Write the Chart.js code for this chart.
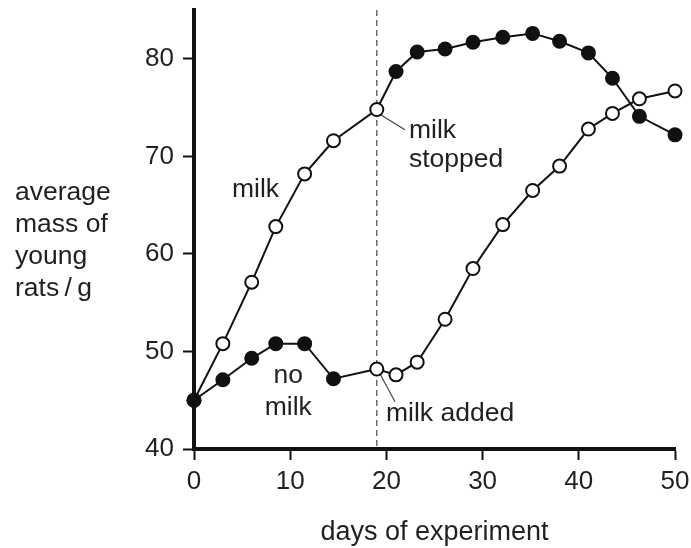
<!DOCTYPE html>
<html>
<head>
<meta charset="utf-8">
<script src="https://cdn.jsdelivr.net/npm/chart.js@4.4.1/dist/chart.umd.min.js"></script>
<style>
  html, body { margin: 0; padding: 0; background: #fff; }
  #wrap { width: 691px; height: 548px; }
</style>
</head>
<body>
<div id="wrap"><canvas id="ratChart" width="691" height="548"></canvas></div>
<script>
// data
var days = [0, 3, 6, 8.5, 11.5, 14.5, 19, 21, 23.2, 26.1, 29, 32.1, 35.2, 38, 41, 43.5, 46.3, 50];
var milkThenStopped = [45, 50.8, 57.1, 62.8, 68.2, 71.6, 74.8, 78.7, 80.7, 81, 81.7, 82.2, 82.6, 81.8, 80.6, 78, 74.1, 72.2];
var noMilkThenAdded = [45, 47.1, 49.3, 50.8, 50.8, 47.2, 48.2, 47.6, 48.9, 53.3, 58.5, 63, 66.5, 69, 72.8, 74.4, 75.9, 76.7];
var xTicks = [0, 10, 20, 30, 40, 50];
var yTicks = [40, 50, 60, 70, 80];
var switchDay = 19;
var xTitle = 'days of experiment';
var yTitle = ['average', 'mass of', 'young', 'rats\u2009/\u2009g'];

var ink = '#231f20';
var fontFam = '"Liberation Sans", Arial, Helvetica, sans-serif';

function pts(vals) {
    return days.map(function (d, i) { return {x: d, y: vals[i]}; });
}

// open circles while milk is given, filled when not
var fillA = days.map(function (d) { return (d > 0 && d <= switchDay) ? '#fff' : '#111'; });
var fillB = days.map(function (d) { return d >= switchDay ? '#fff' : '#111'; });

/** labels, leader lines and the dashed line **/
var notes = [
    {t: 'milk', x: 3.95, y: 65.85, a: 'left'},
    {t: 'no', x: 9.8, y: 46.77, a: 'center'},
    {t: 'milk', x: 9.8, y: 43.49, a: 'center'},
    {t: 'milk', x: 22.35, y: 71.9, a: 'left'},
    {t: 'stopped', x: 22.35, y: 68.9, a: 'left'},
    {t: 'milk added', x: 19.96, y: 42.87, a: 'left'}
];
var leaders = [[19.4, 74.26, 21.93, 72.72], [19.4, 47.59, 20.89, 44.85]];

var annotate = {
    id: 'annotate',
    beforeDatasetsDraw: function (chart) {
        var c = chart.ctx, xs = chart.scales.x, a = chart.chartArea;
        var px = xs.getPixelForValue(switchDay);
        c.save();
        c.strokeStyle = '#555';
        c.lineWidth = 1.3;
        c.setLineDash([6, 4]);
        c.beginPath();
        c.moveTo(px, a.top);
        c.lineTo(px, a.bottom);
        c.stroke();
        c.setLineDash([]);
        c.strokeStyle = '#444';
        c.lineWidth = 1.2;
        leaders.forEach(function (l) {
            c.beginPath();
            c.moveTo(xs.getPixelForValue(l[0]), chart.scales.y.getPixelForValue(l[1]));
            c.lineTo(xs.getPixelForValue(l[2]), chart.scales.y.getPixelForValue(l[3]));
            c.stroke();
        });
        c.restore();
    },
    afterDraw: function (chart) {
        var c = chart.ctx, xs = chart.scales.x, ys = chart.scales.y;
        c.save();
        c.fillStyle = ink;
        c.font = '26.5px ' + fontFam;
        c.textBaseline = 'alphabetic';
        notes.forEach(function (n) {
            c.textAlign = n.a;
            c.fillText(n.t, xs.getPixelForValue(n.x), ys.getPixelForValue(n.y));
        });
        c.textAlign = 'left';
        yTitle.forEach(function (s, i) {
            c.fillText(s, 15, 200 + i * 32);
        });
        c.font = '27px ' + fontFam;
        c.textAlign = 'center';
        c.fillText(xTitle, (chart.chartArea.left + chart.chartArea.right) / 2, 540);
        c.restore();
    }
};

var ctx = document.getElementById('ratChart').getContext('2d');
new Chart(ctx, {
    type: 'line',
    data: {
        datasets: [
            {
                label: 'milk, then stopped',
                data: pts(milkThenStopped),
                borderColor: '#111',
                borderWidth: 2,
                pointRadius: 6.5,
                pointBorderWidth: 2,
                pointBorderColor: '#111',
                pointBackgroundColor: fillA,
                tension: 0,
                clip: false
            },
            {
                label: 'no milk, then added',
                data: pts(noMilkThenAdded),
                borderColor: '#111',
                borderWidth: 2,
                pointRadius: 6.5,
                pointBorderWidth: 2,
                pointBorderColor: '#111',
                pointBackgroundColor: fillB,
                tension: 0,
                clip: false
            }
        ]
    },
    options: {
        responsive: false,
        animation: false,
        devicePixelRatio: 1,
        layout: {padding: {top: 10, right: 16, bottom: 0, left: 0}},
        plugins: {legend: {display: false}, tooltip: {enabled: false}},
        scales: {
            x: {
                type: 'linear',
                min: 0,
                max: 50,
                afterBuildTicks: function (s) { s.ticks = xTicks.map(function (v) { return {value: v}; }); },
                afterFit: function (s) { s.height = 99; s.paddingLeft = 0; s.paddingRight = 0; },
                grid: {display: true, drawOnChartArea: false, drawTicks: true, tickLength: 11, tickWidth: 2, tickColor: '#111'},
                border: {display: true, color: '#111', width: 4},
                ticks: {color: ink, font: {family: fontFam, size: 26}, padding: 6, maxRotation: 0}
            },
            y: {
                type: 'linear',
                min: 40,
                max: 85,
                afterBuildTicks: function (s) { s.ticks = yTicks.map(function (v) { return {value: v}; }); },
                afterFit: function (s) { s.width = 194; s.paddingTop = 0; s.paddingBottom = 0; },
                grid: {display: true, drawOnChartArea: false, drawTicks: true, tickLength: 11, tickWidth: 2, tickColor: '#111'},
                border: {display: true, color: '#111', width: 4},
                ticks: {color: ink, font: {family: fontFam, size: 26}, padding: 9}
            }
        }
    },
    plugins: [annotate]
});
</script>
</body>
</html>
